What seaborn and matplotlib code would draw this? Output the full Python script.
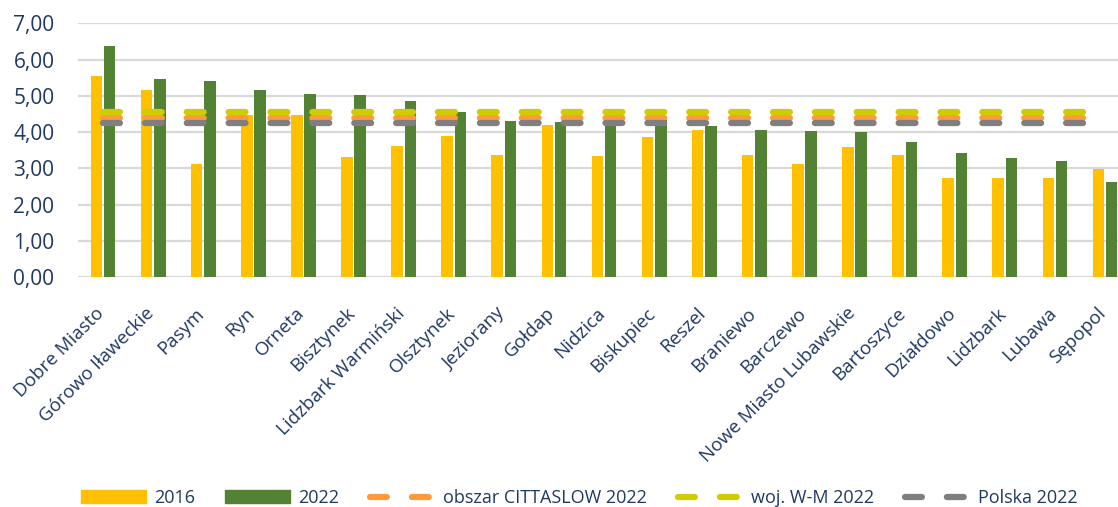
import numpy as np
import pandas as pd

import matplotlib
matplotlib.use('Agg')

import matplotlib.pyplot as plt
import matplotlib.transforms as mtransforms
from matplotlib.lines import Line2D
from matplotlib.patches import Patch
import seaborn as sns

# Data
miasta = ["Dobre Miasto", "Górowo Iławeckie", "Pasym", "Ryn", "Orneta", "Bisztynek",
          "Lidzbark Warmiński", "Olsztynek", "Jeziorany", "Gołdap", "Nidzica", "Biskupiec",
          "Reszel", "Braniewo", "Barczewo", "Nowe Miasto Lubawskie", "Bartoszyce",
          "Działdowo", "Lidzbark", "Lubawa", "Sępopol"]
v2016 = [5.55, 5.16, 3.13, 4.47, 4.47, 3.30, 3.61, 3.90, 3.36, 4.20, 3.34, 3.86,
         4.05, 3.38, 3.11, 3.60, 3.36, 2.74, 2.73, 2.73, 2.97]
v2022 = [6.38, 5.45, 5.42, 5.16, 5.04, 5.03, 4.85, 4.55, 4.31, 4.27, 4.35, 4.40,
         4.16, 4.05, 4.03, 3.99, 3.73, 3.43, 3.28, 3.19, 2.62]
cittaslow_2022 = 4.38
woj_wm_2022 = 4.54
polska_2022 = 4.26

navy = "#1F3864"
c2016 = "#FFC000"
c2022 = "#548235"
c_citta = "#FF9A3C"
c_woj = "#CFCC00"
c_pl = "#7F7F7F"

sns.set_style("white")
plt.rcParams['font.family'] = ['Open Sans', 'DejaVu Sans']

df = pd.DataFrame({
    "miasto": miasta * 2,
    "wartosc": v2016 + v2022,
    "rok": ["2016"] * len(miasta) + ["2022"] * len(miasta),
})

fig = plt.figure(figsize=(11.18, 5.07), dpi=100)
ax = fig.add_axes([0.0698, 0.4536, 0.941, 0.5004])

sns.barplot(data=df, x="miasto", y="wartosc", hue="rok", palette=[c2016, c2022],
            saturation=1, width=0.53, gap=0.13, linewidth=0, legend=False, ax=ax)

# reference levels drawn as dashed lines across the categories
idx = np.arange(len(miasta))
dash = (0, (2.7, 4.0))
for val, col in [(cittaslow_2022, c_citta), (woj_wm_2022, c_woj), (polska_2022, c_pl)]:
    sns.lineplot(x=idx, y=[val] * len(miasta), color=col, lw=4.5, linestyle=dash,
                 dash_capstyle='round', ax=ax, zorder=3)

ax.set_xlim(-0.5, len(miasta) - 0.5)
ax.set_ylim(0, 7)
ax.set_yticks(np.arange(0, 8, 1))
ax.set_yticklabels([f"{t:.2f}".replace(".", ",") for t in range(8)])
ax.yaxis.grid(True, color="#D9D9D9", lw=1.6)
ax.set_axisbelow(True)
for s in ax.spines.values():
    s.set_visible(False)
ax.tick_params(axis='both', length=0, colors=navy)
ax.tick_params(axis='y', labelsize=15, pad=17)
ax.tick_params(axis='x', labelsize=13.5, pad=16)
shift = mtransforms.ScaledTranslation(-0.08, -0.05, fig.dpi_scale_trans)
for lab in ax.get_xticklabels():
    lab.set_rotation(45)
    lab.set_ha('right')
    lab.set_rotation_mode('anchor')
    lab.set_transform(lab.get_transform() + shift)
ax.set_xlabel("")
ax.set_ylabel("")

handles = [
    Patch(color=c2016, label="2016"),
    Patch(color=c2022, label="2022"),
    Line2D([], [], color=c_citta, lw=4.5, linestyle=dash, dash_capstyle='round', label="obszar CITTASLOW 2022"),
    Line2D([], [], color=c_woj, lw=4.5, linestyle=dash, dash_capstyle='round', label="woj. W-M 2022"),
    Line2D([], [], color=c_pl, lw=4.5, linestyle=dash, dash_capstyle='round', label="Polska 2022"),
]
leg = fig.legend(handles=handles, loc='center', bbox_to_anchor=(0.518, 0.018), ncol=5,
                 frameon=False, fontsize=13, handlelength=3.6, handletextpad=0.45,
                 columnspacing=1.7)
for t in leg.get_texts():
    t.set_color(navy)

plt.savefig("out.png", dpi=100)
plt.close()
